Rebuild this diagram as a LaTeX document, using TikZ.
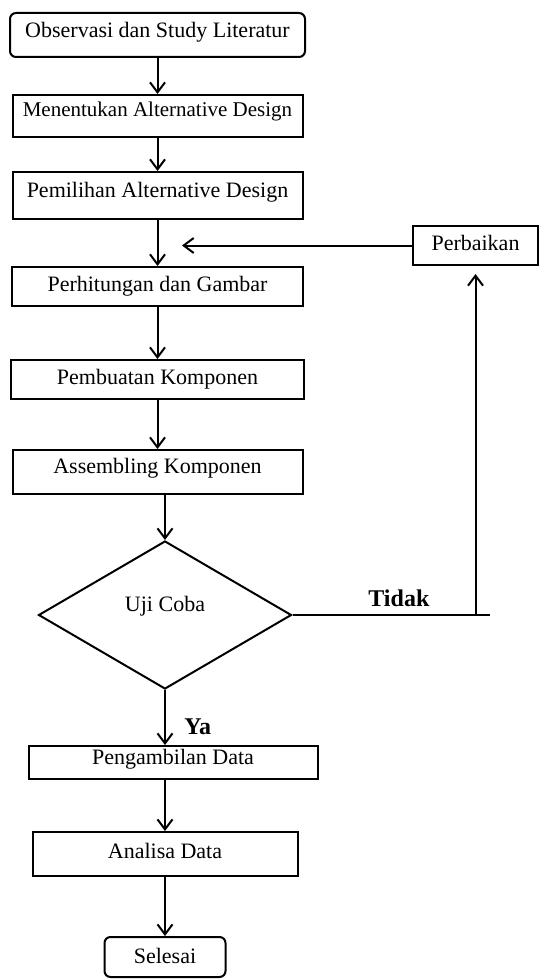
\documentclass[tikz,border=0pt]{standalone}
\usepackage{fontspec}
\setmainfont{Liberation Serif}
\usepackage{tikz}
\usetikzlibrary{shapes.geometric,arrows.meta,positioning,calc}

\begin{document}
\begin{tikzpicture}[x=1pt, y=-1pt, line width=2pt,
  font=\fontsize{22}{26}\selectfont,
  kotak/.style={draw, rectangle, minimum width=290pt, minimum height=40pt, inner xsep=4pt, inner ysep=0pt, text height=14pt, text depth=4pt},
  awal/.style={kotak, rounded corners=6pt},
  arr/.style={-{Straight Barb[length=10pt,width=15pt]}},
  tebal/.style={font=\bfseries\fontsize{24}{28}\selectfont}]
\useasboundingbox (0,0) rectangle (540,979);

\node[awal, minimum width=295pt, minimum height=44pt, text depth=8pt] (obs) at (157.5,35) {Observasi dan Study Literatur};
\node[kotak, below of=obs, node distance=81pt, minimum height=42pt, text depth=12pt, font=\fontsize{21}{24}\selectfont] (alt) {Menentukan Alternative Design};
\node[kotak, below of=alt, node distance=79.5pt, minimum height=47pt, text depth=11pt] (pilih) {Pemilihan Alternative Design};
\node[kotak, below of=pilih, node distance=91pt, minimum width=291pt, minimum height=39pt] (hitung) {Perhitungan dan Gambar};
\node[kotak, below of=hitung, node distance=93pt, minimum width=293pt, minimum height=39pt] (buat) {Pembuatan Komponen};
\node[kotak, below of=buat, node distance=92.5pt, minimum height=44pt, text depth=12pt] (rakit) {Assembling Komponen};
\node[draw, diamond, below of=rakit, node distance=143pt, xshift=7.5pt, minimum width=253pt, minimum height=148pt, inner sep=0pt, text height=14pt, text depth=22pt] (uji) {Uji Coba};
\node[kotak, below of=uji, node distance=147.5pt, xshift=8pt, minimum width=289pt, minimum height=33pt, text depth=11pt] (ambil) {Pengambilan Data};
\node[kotak, below of=ambil, node distance=91.5pt, xshift=-8pt, minimum width=265pt, minimum height=44pt, text depth=6pt] (analisa) {Analisa Data};
\node[awal, below of=analisa, node distance=103pt, minimum width=121pt, minimum height=40pt, text depth=2pt] (selesai) {Selesai};
\node[kotak, right of=hitung, node distance=318pt, yshift=41pt, minimum width=125pt, minimum height=39pt] (perbaikan) {Perbaikan};

% alur utama
\draw[arr] (obs) -- (alt);
\draw[arr] (alt) -- (pilih);
\draw[arr] (pilih) -- (hitung);
\draw[arr] (hitung) -- (buat);
\draw[arr] (buat) -- (rakit);
\draw[arr] (rakit.south -| uji.north) -- (uji.north);
\draw[arr] (uji.south) -- node[right=15pt, pos=0.67, tebal] {Ya} (uji.south |- ambil.north);
\draw[arr] (analisa.north |- ambil.south) -- (analisa.north);
\draw[arr] (analisa) -- (selesai);

% kembali lewat perbaikan
\coordinate (ujung) at ($(uji.east)+(197,0)$);
\draw (uji.east) -- node[above=4pt, pos=0.54, tebal] {Tidak} (ujung);
\draw[arr, shorten >=8pt] (uji.east -| perbaikan.south) -- (perbaikan.south);
\coordinate (balik) at ($(hitung.north |- perbaikan.west)+(24.5,0)$);
\draw[arr] (perbaikan.west) -- (balik);
\end{tikzpicture}
\end{document}
